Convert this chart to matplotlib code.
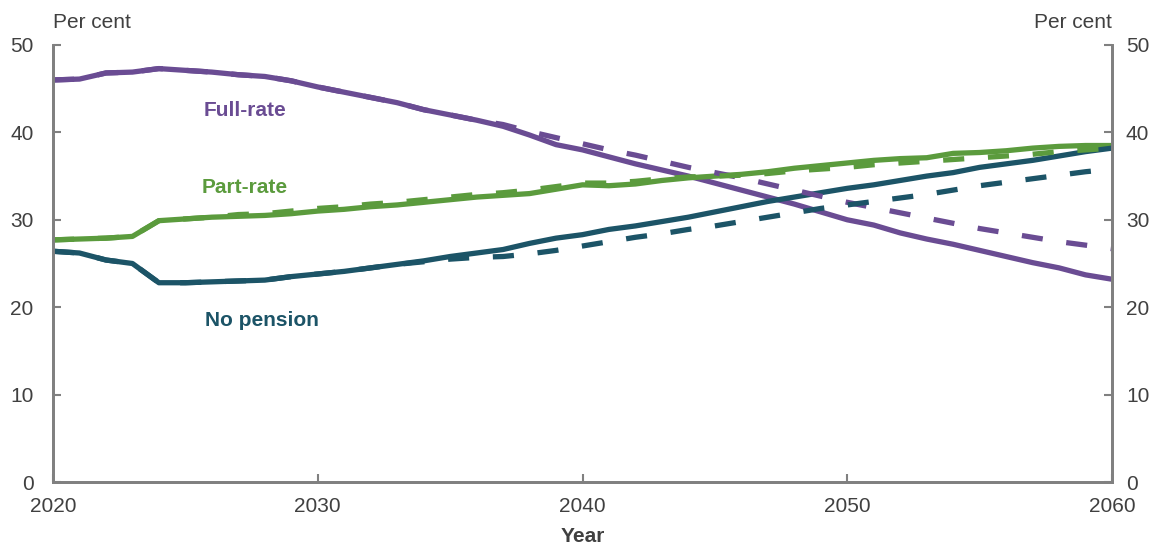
import matplotlib.pyplot as plt
import matplotlib as mpl

mpl.rcParams['font.family'] = ['Liberation Sans', 'DejaVu Sans']

years = list(range(2020, 2061))
full_rate = [46.0, 46.1, 46.8, 46.9, 47.3, 47.1, 46.9, 46.6, 46.4, 45.9,
             45.2, 44.6, 44.0, 43.4, 42.6, 42.0, 41.4, 40.7, 39.7, 38.6,
             38.0, 37.2, 36.4, 35.7, 35.0, 34.2, 33.4, 32.6, 31.8, 30.9,
             30.0, 29.4, 28.5, 27.8, 27.2, 26.5, 25.8, 25.1, 24.5, 23.7, 23.2]
full_rate_dash = [46.0, 46.1, 46.8, 46.9, 47.3, 47.1, 46.9, 46.6, 46.4, 45.9,
                  45.2, 44.6, 44.0, 43.4, 42.6, 42.0, 41.4, 40.9, 40.1, 39.4,
                  38.7, 38.0, 37.4, 36.7, 36.0, 35.4, 34.8, 34.1, 33.4, 32.7,
                  32.0, 31.4, 30.8, 30.2, 29.6, 29.0, 28.5, 28.0, 27.5, 27.1, 26.7]
part_rate = [27.7, 27.8, 27.9, 28.1, 29.9, 30.1, 30.3, 30.4, 30.5, 30.7,
             31.0, 31.2, 31.5, 31.7, 32.0, 32.3, 32.6, 32.8, 33.0, 33.5,
             34.0, 33.9, 34.1, 34.5, 34.8, 35.0, 35.2, 35.5, 35.9, 36.2,
             36.5, 36.8, 37.0, 37.1, 37.6, 37.7, 37.9, 38.2, 38.4, 38.5, 38.5]
part_rate_dash = [27.7, 27.8, 27.9, 28.1, 29.9, 30.1, 30.3, 30.6, 30.7, 31.0,
                  31.3, 31.5, 31.8, 32.0, 32.3, 32.6, 32.9, 33.1, 33.4, 33.8,
                  34.2, 34.2, 34.4, 34.7, 34.9, 35.0, 35.1, 35.3, 35.6, 35.8,
                  36.0, 36.3, 36.5, 36.7, 36.9, 37.1, 37.3, 37.5, 37.8, 38.0, 38.2]
no_pension = [26.4, 26.2, 25.4, 25.0, 22.8, 22.8, 22.9, 23.0, 23.1, 23.5,
              23.8, 24.1, 24.5, 24.9, 25.3, 25.8, 26.2, 26.6, 27.3, 27.9,
              28.3, 28.9, 29.3, 29.8, 30.3, 30.9, 31.5, 32.1, 32.6, 33.1,
              33.6, 34.0, 34.5, 35.0, 35.4, 36.0, 36.4, 36.8, 37.3, 37.8, 38.2]
no_pension_dash = [26.4, 26.2, 25.4, 25.0, 22.8, 22.8, 22.9, 23.0, 23.1, 23.5,
                   23.8, 24.1, 24.5, 24.9, 25.2, 25.5, 25.7, 25.8, 26.1, 26.5,
                   27.0, 27.5, 28.0, 28.4, 28.9, 29.3, 29.8, 30.3, 30.8, 31.3,
                   31.7, 32.1, 32.5, 32.9, 33.4, 33.9, 34.3, 34.7, 35.1, 35.5, 35.8]
xticks = [2020, 2030, 2040, 2050, 2060]
yticks = [0, 10, 20, 30, 40, 50]

purple = '#6a4c93'
green = '#5b9b3d'
teal = '#1c5467'
grey = '#808080'
text_c = '#404040'
fs = 15

fig = plt.figure(figsize=(11.52, 5.48), dpi=100)
# axes box in pixels: x 53..1112, y 45..482
ax = fig.add_axes([53 / 1152, 1 - 482 / 548, 1059 / 1152, 437 / 548])

lw = 3.8
ax.plot(years, full_rate, color=purple, lw=lw, solid_capstyle='butt')
ax.plot(years, part_rate, color=green, lw=lw, solid_capstyle='butt')
ax.plot(years, no_pension, color=teal, lw=lw, solid_capstyle='butt')
ax.plot(years, full_rate_dash, color=purple, lw=lw, dashes=(4, 4.5), dash_capstyle='butt')
ax.plot(years, part_rate_dash, color=green, lw=lw, dashes=(4, 4.5), dash_capstyle='butt')
ax.plot(years, no_pension_dash, color=teal, lw=lw, dashes=(4, 4.5), dash_capstyle='butt')

ax.text(2027.25, 42.45, 'Full-rate', color=purple, fontsize=fs, fontweight='bold',
        ha='center', va='center')
ax.text(2027.25, 33.75, 'Part-rate', color=green, fontsize=fs, fontweight='bold',
        ha='center', va='center')
ax.text(2027.9, 18.5, 'No pension', color=teal, fontsize=fs, fontweight='bold',
        ha='center', va='center')

ax.set_xlim(2020, 2060)
ax.set_ylim(0, 50)
ax.set_xticks(xticks)
ax.set_yticks(yticks)
ax.tick_params(axis='both', direction='in', length=5.5, width=1.5, color=grey,
               labelsize=fs, labelcolor=text_c)
ax.tick_params(axis='y', pad=14)
ax.tick_params(axis='x', pad=11)
for side in ['left', 'right', 'bottom']:
    ax.spines[side].set_color(grey)
    ax.spines[side].set_linewidth(2)
ax.spines['top'].set_visible(False)

# right-hand scale (same as left)
ax2 = ax.twinx()
ax2.set_ylim(0, 50)
ax2.set_yticks(yticks)
ax2.tick_params(axis='y', direction='in', length=5.5, width=1.5, color=grey,
                labelsize=fs, labelcolor=text_c, pad=10)
for side in ['left', 'right', 'bottom']:
    ax2.spines[side].set_color(grey)
    ax2.spines[side].set_linewidth(2)
ax2.spines['top'].set_visible(False)

ax.set_xlabel('Year', fontsize=fs, fontweight='bold', color=text_c, labelpad=8)
fig.text(53 / 1152, 1 - 23 / 548, 'Per cent', fontsize=fs, color=text_c, ha='left', va='center')
fig.text(1112 / 1152, 1 - 23 / 548, 'Per cent', fontsize=fs, color=text_c, ha='right', va='center')

plt.savefig('out.png', dpi=100)
